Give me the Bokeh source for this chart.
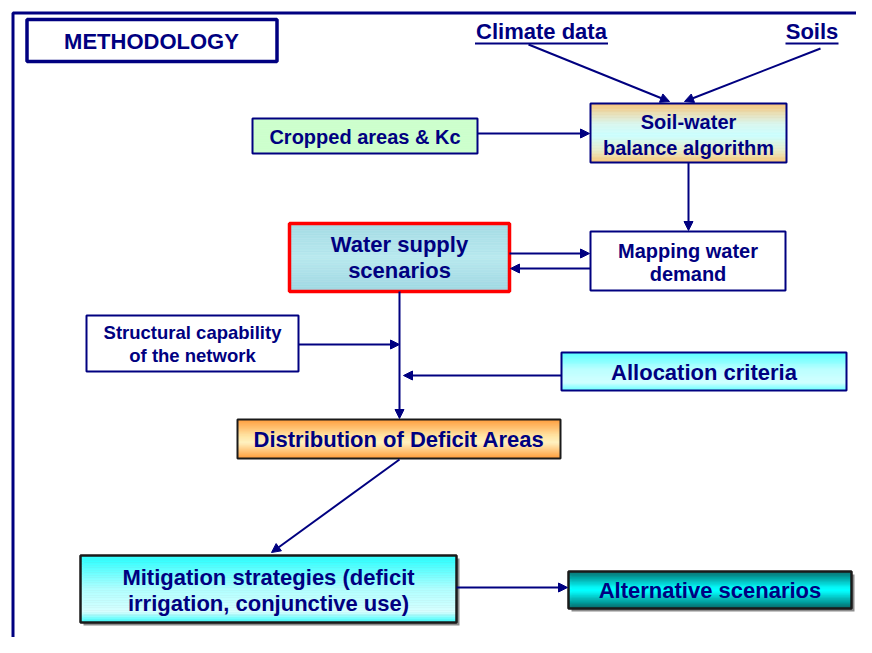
import numpy as np
from bokeh.plotting import figure
from bokeh.models import Range1d, Arrow, NormalHead
from bokeh.core.properties import value
from bokeh.embed import file_html
from bokeh.resources import INLINE

# ---------------- content ----------------
title_text = "METHODOLOGY"
source_labels = ["Climate data", "Soils"]
box_names = ["crop", "soil", "supply", "demand", "struct", "alloc", "distrib", "mitig", "alt"]
box_labels = [
    ["Cropped areas & Kc"],
    ["Soil-water", "balance algorithm"],
    ["Water supply", "scenarios"],
    ["Mapping water", "demand"],
    ["Structural capability", "of the network"],
    ["Allocation criteria"],
    ["Distribution of Deficit Areas"],
    ["Mitigation strategies (deficit", "irrigation, conjunctive use)"],
    ["Alternative scenarios"],
]

# ---------------- layout / style ----------------
NAVY = "#000080"
FONT = value("Liberation Sans")

# box geometry in page pixels: (left, right, top, bottom)
geom = {
    "crop":    (252, 477, 118, 153),
    "soil":    (590, 786, 103, 162),
    "supply":  (289, 509, 223, 291),
    "demand":  (590, 785, 231, 290),
    "struct":  (86, 298, 315, 371),
    "alloc":   (561, 846, 352, 390),
    "distrib": (237, 560, 419, 458),
    "mitig":   (80, 456, 555, 622),
    "alt":     (568, 851, 571, 608),
}
# fill gradients (t from top to bottom, colour)
fills = {
    "crop":    [(0, "#ccffcc"), (1, "#ccffcc")],
    "soil":    [(0, "#f8c478"), (0.35, "#d8f6ee"), (0.55, "#ccffff"), (0.8, "#e6ecc8"), (1, "#f8c478")],
    "supply":  [(0, "#a4dbe4"), (0.5, "#b8e8ee"), (1, "#a0d8e2")],
    "demand":  [(0, "#ffffff"), (1, "#ffffff")],
    "struct":  [(0, "#ffffff"), (1, "#ffffff")],
    "alloc":   [(0, "#55ffff"), (0.45, "#b8ffff"), (0.8, "#d2ffff"), (1, "#66ffff")],
    "distrib": [(0, "#ff9933"), (0.45, "#ffe6a8"), (0.6, "#fff2c0"), (1, "#ff9933")],
    "mitig":   [(0, "#22ffff"), (0.5, "#b0ffff"), (0.85, "#d8ffff"), (1, "#33ffff")],
    "alt":     [(0, "#006868"), (0.45, "#00ffff"), (0.55, "#00ffff"), (1, "#006868")],
}
borders = {
    "crop": (NAVY, 2), "soil": (NAVY, 2), "supply": ("#ff0000", 3.5),
    "demand": (NAVY, 2), "struct": (NAVY, 2), "alloc": (NAVY, 2),
    "distrib": ("#1a1a1a", 2), "mitig": ("#1a1a1a", 2.5), "alt": ("#1a1a1a", 2.5),
}
shadow = {"mitig", "alt"}
font_px = {
    "crop": 20, "soil": 20, "supply": 22, "demand": 20, "struct": 18.5,
    "alloc": 22, "distrib": 22, "mitig": 22, "alt": 22,
}
line_y = {
    "crop": [136], "soil": [121, 147], "supply": [244, 270], "demand": [250, 273],
    "struct": [332, 355], "alloc": [372], "distrib": [439], "mitig": [577, 603],
    "alt": [590],
}

# connectors: (x_start, y_start, x_end, y_end)
connectors = [
    (528, 44, 669, 101),
    (820, 48, 684, 101),
    (477, 133, 589, 133),
    (688, 162, 688, 230),
    (509, 253, 589, 253),
    (590, 268, 510, 268),
    (399, 291, 399, 418),
    (298, 344, 399, 344),
    (561, 375, 403, 375),
    (399, 459, 271, 552),
    (456, 587, 567, 587),
]

# ---------------- figure ----------------
W, H = 856, 637
p = figure(width=W, height=H, x_range=Range1d(0, W), y_range=Range1d(H, 0),
           output_backend="svg", toolbar_location=None, min_border=0)
p.axis.visible = False
p.grid.visible = False
p.outline_line_color = None
p.background_fill_color = "white"
p.border_fill_color = "white"

# outer frame
p.line([12.5, 12.5, 880], [660, 12.5, 12.5], line_color=NAVY, line_width=3)

# title box
p.quad(left=[26.5], right=[276.5], top=[19], bottom=[61], fill_color="white",
       line_color=NAVY, line_width=3.5)
p.text(x=[151], y=[41], text=[title_text], text_font=FONT, text_font_style="bold",
       text_font_size="22px", text_color=NAVY, text_align="center", text_baseline="middle")

# source labels (underlined)
src_x = [541, 811.5]
src_w = [133, 53]
p.text(x=src_x, y=[31, 31], text=source_labels, text_font=FONT, text_font_style="bold",
       text_font_size="22px", text_color=NAVY, text_align="center", text_baseline="middle")
for cx, w in zip(src_x, src_w):
    p.line([cx - w / 2, cx + w / 2], [43, 43], line_color=NAVY, line_width=2)


def hex2rgb(h):
    h = h.lstrip("#")
    return np.array([int(h[i:i + 2], 16) for i in (0, 2, 4)], dtype=float)


def colour_at(stops, t):
    for (t0, c0), (t1, c1) in zip(stops[:-1], stops[1:]):
        if t0 <= t <= t1:
            f = 0 if t1 == t0 else (t - t0) / (t1 - t0)
            c = hex2rgb(c0) * (1 - f) + hex2rgb(c1) * f
            return "#%02x%02x%02x" % tuple(int(round(v)) for v in c)
    return stops[-1][1]


# connectors under boxes
for (xs, ys, xe, ye) in connectors:
    p.add_layout(Arrow(x_start=xs, y_start=ys, x_end=xe, y_end=ye,
                       line_color=NAVY, line_width=2,
                       end=NormalHead(size=9, fill_color=NAVY, line_color=NAVY, line_width=1)))

for name, lines in zip(box_names, box_labels):
    l, r, t, b = geom[name]
    if name in shadow:
        p.quad(left=[l + 3], right=[r + 3], top=[t + 3], bottom=[b + 3],
               fill_color="#8c8c8c", line_color=None)
    stops = fills[name]
    n = 40
    ys = np.linspace(t, b, n + 1)
    cols = [colour_at(stops, (i + 0.5) / n) for i in range(n)]
    p.quad(left=[l] * n, right=[r] * n, top=list(ys[:-1]), bottom=list(ys[1:]),
           fill_color=cols, line_color=cols, line_width=0.6)
    bc, bw = borders[name]
    p.quad(left=[l], right=[r], top=[t], bottom=[b], fill_color=None,
           line_color=bc, line_width=bw)
    cx = (l + r) / 2
    p.text(x=[cx] * len(lines), y=line_y[name], text=lines, text_font=FONT,
           text_font_style="bold", text_font_size=f"{font_px[name]}px",
           text_color=NAVY, text_align="center", text_baseline="middle")

open("out.html", "w").write(file_html(p, INLINE))
